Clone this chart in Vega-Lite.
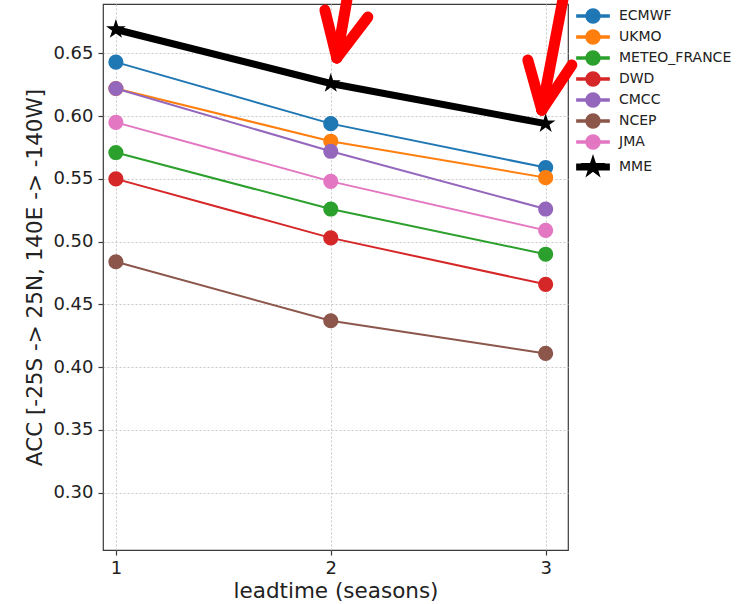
{
  "$schema": "https://vega.github.io/schema/vega-lite/v6.json",
  "width": 465,
  "height": 546,
  "autosize": {"type": "none"},
  "padding": {"left": 103, "top": 4, "right": 170, "bottom": 54},
  "background": "white",
  "config": {
    "font": "DejaVu Sans",
    "view": {"stroke": "#3a3a3a", "strokeWidth": 1.2},
    "axis": {
      "labelFont": "DejaVu Sans",
      "titleFont": "DejaVu Sans",
      "labelFontSize": 18,
      "titleFontSize": 21.5,
      "titleFontWeight": "normal",
      "labelColor": "#222",
      "titleColor": "#222",
      "tickColor": "#3a3a3a",
      "tickSize": 5,
      "tickWidth": 1.2,
      "domain": false,
      "grid": true,
      "gridColor": "#c8c8c8",
      "gridDash": [2, 2],
      "gridWidth": 1
    },
    "legend": {"labelFont": "DejaVu Sans"}
  },
  "datasets": {
    "acc": [
      {"model": "ECMWF", "lead": 1, "acc": 0.643},
      {"model": "ECMWF", "lead": 2, "acc": 0.594},
      {"model": "ECMWF", "lead": 3, "acc": 0.559},
      {"model": "UKMO", "lead": 1, "acc": 0.622},
      {"model": "UKMO", "lead": 2, "acc": 0.580},
      {"model": "UKMO", "lead": 3, "acc": 0.551},
      {"model": "METEO_FRANCE", "lead": 1, "acc": 0.571},
      {"model": "METEO_FRANCE", "lead": 2, "acc": 0.526},
      {"model": "METEO_FRANCE", "lead": 3, "acc": 0.490},
      {"model": "DWD", "lead": 1, "acc": 0.550},
      {"model": "DWD", "lead": 2, "acc": 0.503},
      {"model": "DWD", "lead": 3, "acc": 0.466},
      {"model": "CMCC", "lead": 1, "acc": 0.622},
      {"model": "CMCC", "lead": 2, "acc": 0.572},
      {"model": "CMCC", "lead": 3, "acc": 0.526},
      {"model": "NCEP", "lead": 1, "acc": 0.484},
      {"model": "NCEP", "lead": 2, "acc": 0.437},
      {"model": "NCEP", "lead": 3, "acc": 0.411},
      {"model": "JMA", "lead": 1, "acc": 0.595},
      {"model": "JMA", "lead": 2, "acc": 0.548},
      {"model": "JMA", "lead": 3, "acc": 0.509},
      {"model": "MME", "lead": 1, "acc": 0.669},
      {"model": "MME", "lead": 2, "acc": 0.626},
      {"model": "MME", "lead": 3, "acc": 0.594}
    ],
    "arrows": [
      {"x": 2.075, "y": 0.6925, "x2": 2.028, "y2": 0.6463},
      {"x": 1.9726, "y": 0.6845, "x2": 2.028, "y2": 0.6463},
      {"x": 2.1726, "y": 0.6789, "x2": 2.028, "y2": 0.6463},
      {"x": 3.080, "y": 0.6925, "x2": 2.982, "y2": 0.6048},
      {"x": 2.917, "y": 0.6447, "x2": 2.982, "y2": 0.6048},
      {"x": 3.122, "y": 0.6407, "x2": 2.982, "y2": 0.6048}
    ]
  },
  "layer": [
    {
      "data": {"name": "acc"},
      "mark": {"type": "line", "clip": false},
      "encoding": {
        "x": {
          "field": "lead", "type": "quantitative",
          "scale": {"domain": [0.94, 3.104], "nice": false, "zero": false},
          "axis": {"values": [1, 2, 3], "format": "d", "title": "leadtime (seasons)", "labelPadding": 4, "titlePadding": 3}
        },
        "y": {
          "field": "acc", "type": "quantitative",
          "scale": {"domain": [0.2544, 0.6893], "nice": false, "zero": false},
          "axis": {"values": [0.3, 0.35, 0.4, 0.45, 0.5, 0.55, 0.6, 0.65], "format": ".2f", "title": "ACC [-25S -> 25N, 140E -> -140W]", "labelPadding": 5, "titlePadding": 6}
        },
        "color": {
          "field": "model", "type": "nominal",
          "scale": {
            "domain": ["ECMWF", "UKMO", "METEO_FRANCE", "DWD", "CMCC", "NCEP", "JMA", "MME"],
            "range": ["#1f77b4", "#ff7f0e", "#2ca02c", "#d62728", "#9467bd", "#8c564b", "#e377c2", "#000000"]
          },
          "legend": {
            "title": null,
            "orient": "none",
            "legendX": 482,
            "legendY": 4,
            "padding": 0,
            "symbolSize": 196,
            "symbolOpacity": 1,
            "symbolFillColor": "#000000",
            "labelFontSize": 14,
            "labelColor": "#222",
            "labelOffset": 18,
            "rowPadding": 1
          }
        },
        "strokeWidth": {"condition": {"test": "datum.model === 'MME'", "value": 7}, "value": 2}
      }
    },
    {
      "data": {"name": "acc"},
      "transform": [{"filter": "datum.model !== 'MME'"}],
      "mark": {"type": "circle", "opacity": 1, "size": 230, "clip": false},
      "encoding": {
        "x": {"field": "lead", "type": "quantitative"},
        "y": {"field": "acc", "type": "quantitative"},
        "color": {"field": "model", "type": "nominal"}
      }
    },
    {
      "data": {"name": "acc"},
      "transform": [{"filter": "datum.model === 'MME'"}],
      "mark": {"type": "point", "filled": true, "opacity": 1, "color": "#000000", "size": 430, "shape": "M0,-1L0.2245,-0.309L0.9511,-0.309L0.3633,0.118L0.5878,0.809L0,0.382L-0.5878,0.809L-0.3633,0.118L-0.9511,-0.309L-0.2245,-0.309Z", "clip": false},
      "encoding": {
        "x": {"field": "lead", "type": "quantitative"},
        "y": {"field": "acc", "type": "quantitative"}
      }
    },
    {
      "data": {"name": "acc"},
      "transform": [{"filter": "false"}],
      "mark": {"type": "point", "filled": true, "opacity": 1, "size": 196},
      "encoding": {
        "x": {"field": "lead", "type": "quantitative"},
        "y": {"field": "acc", "type": "quantitative"},
        "color": {"field": "model", "type": "nominal"},
        "shape": {
          "field": "model", "type": "nominal",
          "scale": {
            "domain": ["ECMWF", "UKMO", "METEO_FRANCE", "DWD", "CMCC", "NCEP", "JMA", "MME"],
            "range": [
              "M-2.3,-0.143L2.3,-0.143L2.3,0.143L-2.3,0.143ZM-1,0A1,1,0,1,1,1,0A1,1,0,1,1,-1,0Z",
              "M-2.3,-0.143L2.3,-0.143L2.3,0.143L-2.3,0.143ZM-1,0A1,1,0,1,1,1,0A1,1,0,1,1,-1,0Z",
              "M-2.3,-0.143L2.3,-0.143L2.3,0.143L-2.3,0.143ZM-1,0A1,1,0,1,1,1,0A1,1,0,1,1,-1,0Z",
              "M-2.3,-0.143L2.3,-0.143L2.3,0.143L-2.3,0.143ZM-1,0A1,1,0,1,1,1,0A1,1,0,1,1,-1,0Z",
              "M-2.3,-0.143L2.3,-0.143L2.3,0.143L-2.3,0.143ZM-1,0A1,1,0,1,1,1,0A1,1,0,1,1,-1,0Z",
              "M-2.3,-0.143L2.3,-0.143L2.3,0.143L-2.3,0.143ZM-1,0A1,1,0,1,1,1,0A1,1,0,1,1,-1,0Z",
              "M-2.3,-0.143L2.3,-0.143L2.3,0.143L-2.3,0.143ZM-1,0A1,1,0,1,1,1,0A1,1,0,1,1,-1,0Z",
              "M-2.3,-0.4L2.3,-0.4L2.3,0.4L-2.3,0.4ZM0,-1.5L0.337,-0.4635L1.4267,-0.4635L0.545,0.177L0.8817,1.2135L0,0.573L-0.8817,1.2135L-0.545,0.177L-1.4267,-0.4635L-0.337,-0.4635Z"
            ]
          },
          "legend": null
        }
      }
    },
    {
      "data": {"name": "arrows"},
      "mark": {"type": "rule", "color": "#ff0000", "strokeWidth": 11, "strokeCap": "round", "clip": false},
      "encoding": {
        "x": {"field": "x", "type": "quantitative"},
        "y": {"field": "y", "type": "quantitative"},
        "x2": {"field": "x2"},
        "y2": {"field": "y2"}
      }
    }
  ]
}
